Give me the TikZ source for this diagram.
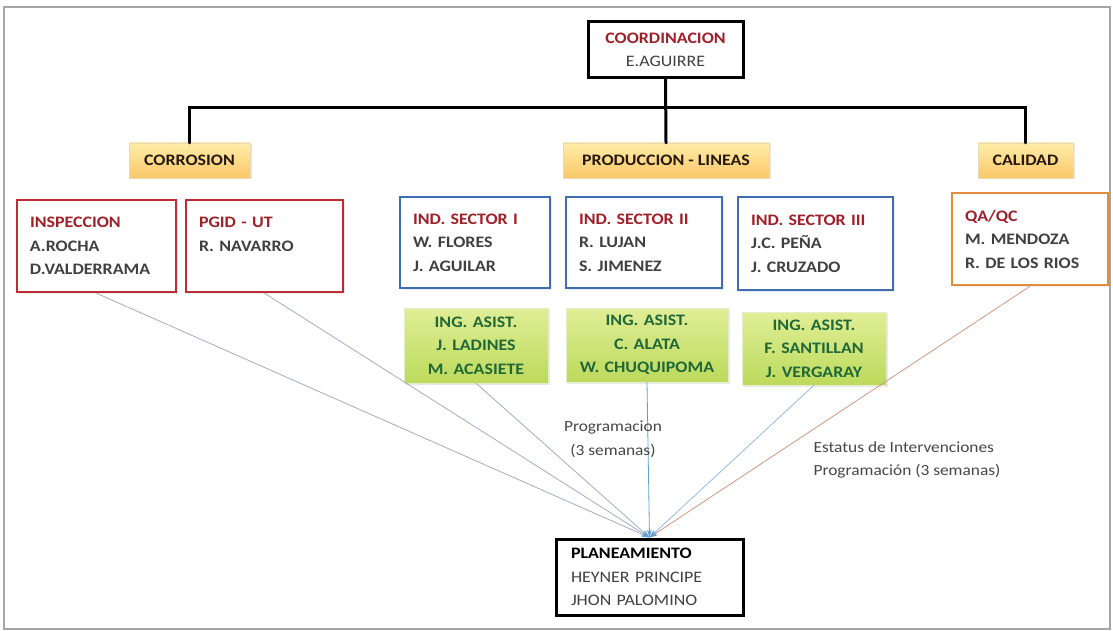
\documentclass[tikz,border=0pt]{standalone}
\usepackage{fontspec}
\setmainfont{Carlito}[FakeStretch=1.12]
\usetikzlibrary{positioning,arrows.meta,shadows}

\definecolor{titred}{RGB}{158,32,40}
\definecolor{namegray}{RGB}{64,64,64}
\definecolor{edgered}{RGB}{192,44,52}
\definecolor{edgeblue}{RGB}{62,110,178}
\definecolor{edgeorange}{RGB}{226,140,62}
\definecolor{asistgreen}{RGB}{32,104,56}
\definecolor{yeltop}{RGB}{255,236,168}
\definecolor{yelbot}{RGB}{250,200,104}
\definecolor{grntop}{RGB}{224,238,150}
\definecolor{grnbot}{RGB}{188,218,92}
\definecolor{flowgray}{RGB}{160,172,190}
\definecolor{flowblue}{RGB}{96,158,214}
\definecolor{flowrose}{RGB}{206,150,130}
\definecolor{lblgray}{RGB}{70,70,70}

\tikzset{
  boxfont/.style={font=\fontsize{16}{23.5}\selectfont\bfseries},
  headbox/.style={draw=black,line width=3pt,fill=white,boxfont,inner xsep=15pt},
  areabox/.style={boxfont,text=black!80!brown,top color=yeltop,bottom color=yelbot,
    draw=yelbot!80!black!40,line width=.4pt,minimum height=35pt,inner xsep=0pt,
    drop shadow={opacity=.2,shadow xshift=1.5pt,shadow yshift=-1.5pt}},
  unitbox/.style={boxfont,text=namegray,fill=white,line width=2.5pt,align=left,
    inner xsep=13pt,drop shadow={opacity=.15,shadow xshift=1.5pt,shadow yshift=-1.5pt}},
  asistbox/.style={boxfont,text=asistgreen,top color=grntop,bottom color=grnbot,
    draw=grnbot!90!black!30,line width=.4pt,align=center,inner xsep=6pt,
    drop shadow={opacity=.18,shadow xshift=1.5pt,shadow yshift=-1.5pt}},
  tree/.style={line width=3pt,line cap=round},
  flow/.style={draw=flowgray,line width=.8pt,-{Stealth[length=8pt,width=5pt,color=flowblue]}},
  lbl/.style={font=\fontsize{15.5}{23.5}\selectfont,text=lblgray}
}

\begin{document}
\begin{tikzpicture}[x=1pt,y=-1pt]
  \useasboundingbox (0,0) rectangle (1113,631);
  \draw[gray!70,line width=1.5pt] (4,7) rectangle (1110,629);

  % cabeza y areas
  \node[headbox,align=center,minimum width=155pt,minimum height=56pt] (coord) at (665.5,50)
    {\textcolor{titred}{COORDINACION}\\\textcolor{namegray}{\mdseries E.AGUIRRE}};
  \node[areabox,minimum width=121pt] (corr) at (189.5,160.5) {CORROSION};
  \node[areabox,minimum width=206pt] (prod) at (666,160.5) {PRODUCCION - LINEAS};
  \node[areabox,minimum width=95pt] (cal) at (1025.5,160.5) {CALIDAD};
  \coordinate (bus) at (665.5,108);
  \draw[tree] (coord.south) -- (prod.north);
  \draw[tree] (corr.north) |- (bus) -| (cal.north);

  % unidades
  \node[unitbox,draw=edgered,text width=133pt,minimum height=92pt] (insp) at (96.5,246)
    {\textcolor{titred}{INSPECCION}\\A.ROCHA\\D.VALDERRAMA};
  \node[unitbox,draw=edgered,text width=131pt,minimum height=92pt] (pgid) at (264.5,246)
    {\textcolor{titred}{PGID - UT}\\R. NAVARRO\\\mbox{}};
  \node[unitbox,draw=edgeblue,text width=124pt,minimum height=91pt] (sec1) at (475,242.5)
    {\textcolor{titred}{IND. SECTOR I}\\W. FLORES\\J. AGUILAR};
  \node[unitbox,draw=edgeblue,text width=130pt,minimum height=91pt] (sec2) at (644,242.5)
    {\textcolor{titred}{IND. SECTOR II}\\R. LUJAN\\S. JIMENEZ};
  \node[unitbox,draw=edgeblue,text width=129pt,minimum height=93pt] (sec3) at (815.5,243.5)
    {\textcolor{titred}{IND. SECTOR III}\\J.C. PEÑA\\J. CRUZADO};
  \node[unitbox,draw=edgeorange,text width=130pt,minimum height=92pt] (qa) at (1030,239)
    {\textcolor{titred}{QA/QC}\\M. MENDOZA\\R. DE LOS RIOS};

  % ingenieros asistentes
  \node[asistbox,text width=132pt,minimum height=75pt] (ing1) at (476,345.5)
    {ING. ASIST.\\J. LADINES\\M. ACASIETE};
  \node[asistbox,text width=150pt,minimum height=74pt] (ing2) at (647,345)
    {ING. ASIST.\\C. ALATA\\W. CHUQUIPOMA};
  \node[asistbox,text width=132pt,minimum height=73pt] (ing3) at (814,348.5)
    {ING. ASIST.\\F. SANTILLAN\\J. VERGARAY};

  % planeamiento
  \node[headbox,align=left,text=namegray,text width=157pt,minimum height=76pt] (plan) at (649.5,577)
    {\textcolor{black}{PLANEAMIENTO}\\{\mdseries HEYNER PRINCIPE}\\{\mdseries JHON PALOMINO}};

  \draw[flow] (insp.south) -- (plan.north);
  \draw[flow] (pgid.south) -- (plan.north);
  \draw[flow] (ing1.south) -- (plan.north);
  \draw[flow,draw=flowblue] (ing2.south) -- (plan.north);
  \draw[flow,draw=flowblue!70] (ing3.south) -- (plan.north);
  \draw[flow,draw=flowrose] (qa.south) -- (plan.north);

  \node[lbl,align=center] (prog) at (613,439) {Programacion\\(3 semanas)};
  \node[lbl,align=left,anchor=west] (estatus) at (810,460)
    {Estatus de Intervenciones\\Programación (3 semanas)};
\end{tikzpicture}
\end{document}
